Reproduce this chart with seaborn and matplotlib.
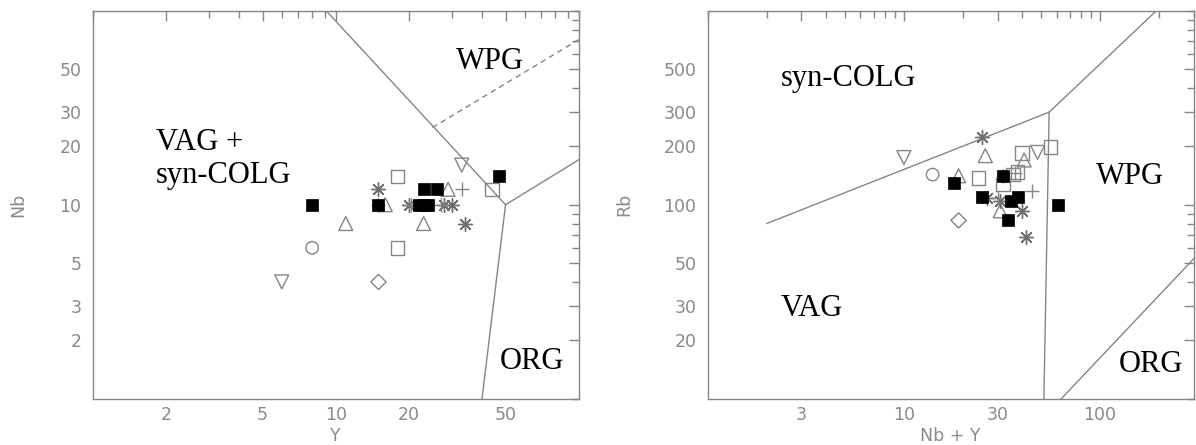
import matplotlib
matplotlib.use("Agg")
import matplotlib.pyplot as plt
import seaborn as sns
from matplotlib.ticker import FixedLocator, LogLocator, NullFormatter, FixedFormatter

sns.set_style("white")
plt.rcParams["font.family"] = ["DejaVu Sans"]

GRAY = "#858585"
TXT = "#8a8a8a"

# ---------------- Left panel: Nb vs Y ----------------
L_fsq_Y = [8, 15, 22, 23, 24, 23, 26, 47]
L_fsq_Nb = [10, 10, 10, 10, 10, 12, 12, 14]
L_osq_Y = [18, 18, 44]
L_osq_Nb = [14, 6, 12]
L_tri_Y = [11, 16, 23, 29]
L_tri_Nb = [8, 10, 8, 12]
L_itri_Y = [6, 33]
L_itri_Nb = [4, 16]
L_circ_Y = [8]
L_circ_Nb = [6]
L_diam_Y = [15]
L_diam_Nb = [4]
L_ast_Y = [15, 20, 28, 30, 34]
L_ast_Nb = [12, 10, 10, 10, 8]
L_plus_Y = [15, 20.5, 27, 33]
L_plus_Nb = [10, 10, 10, 12]

# boundaries (Y, Nb)
L_b1_Y, L_b1_Nb = [1, 50], [2000, 10]
L_b2_Y, L_b2_Nb = [50, 1000], [10, 100]
L_b3_Y, L_b3_Nb = [50, 40], [10, 1]
L_bd_Y, L_bd_Nb = [25, 1000], [25, 400]

# ---------------- Right panel: Rb vs Nb+Y ----------------
R_fsq_X = [18, 25, 32, 35, 38, 34, 61]
R_fsq_Rb = [129, 110, 140, 104, 109, 83, 100]
R_osq_X = [24, 32, 36, 38, 40, 56]
R_osq_Rb = [137, 127, 143, 147, 185, 198]
R_tri_X = [19, 26, 31, 41]
R_tri_Rb = [141, 179, 93, 170]
R_itri_X = [10, 48]
R_itri_Rb = [175, 186]
R_circ_X = [14]
R_circ_Rb = [143]
R_diam_X = [19]
R_diam_Rb = [83]
R_ast_X = [25, 26.5, 31, 40, 42]
R_ast_Rb = [224, 108, 105, 93, 68]
R_plus_X = [30, 32, 37, 45]
R_plus_Rb = [108, 140, 145, 117]

R_b1_X, R_b1_Rb = [2, 55], [80, 300]
R_b2_X, R_b2_Rb = [55, 400], [300, 2000]
R_b3_X, R_b3_Rb = [55, 51.5], [300, 8]
R_b4_X, R_b4_Rb = [51.5, 2000], [8, 400]

fig = plt.figure(figsize=(11.96, 4.45), dpi=100)
axL = fig.add_axes([92.7 / 1196, 46.3 / 445, 486 / 1196, 388 / 445])
axR = fig.add_axes([707.7 / 1196, 46.3 / 445, 486 / 1196, 388 / 445])


def setup(ax, xlim, ylim, xmaj, ymaj):
    ax.set_xscale("log")
    ax.set_yscale("log")
    ax.set_xlim(*xlim)
    ax.set_ylim(*ylim)
    ax.xaxis.set_major_locator(FixedLocator(xmaj))
    ax.xaxis.set_major_formatter(FixedFormatter([f"{v:g}" for v in xmaj]))
    ax.yaxis.set_major_locator(FixedLocator(ymaj))
    ax.yaxis.set_major_formatter(FixedFormatter([f"{v:g}" for v in ymaj]))
    for a in (ax.xaxis, ax.yaxis):
        a.set_minor_locator(LogLocator(base=10, subs=range(1, 10), numticks=50))
        a.set_minor_formatter(NullFormatter())
    ax.tick_params(which="both", direction="in", top=True, right=True,
                   color=GRAY, width=1, labelcolor=TXT, labelsize=12.5)
    ax.tick_params(which="major", length=7)
    ax.tick_params(which="minor", length=5)
    ax.tick_params(axis="x", pad=5)
    ax.tick_params(axis="y", pad=8)
    for sp in ax.spines.values():
        sp.set_color(GRAY)
        sp.set_linewidth(1)
    ax.grid(False)


setup(axL, (1, 100), (1, 100), [2, 5, 10, 20, 50], [2, 3, 5, 10, 20, 30, 50])
setup(axR, (1, 300), (10, 1000), [3, 10, 30, 100], [20, 30, 50, 100, 200, 300, 500])


def line(ax, x, y, ls="-"):
    sns.lineplot(x=x, y=y, ax=ax, color=GRAY, linewidth=1, linestyle=ls,
                 sort=False, estimator=None, zorder=1)


line(axL, L_b1_Y, L_b1_Nb)
line(axL, L_b2_Y, L_b2_Nb)
line(axL, L_b3_Y, L_b3_Nb)
line(axL, L_bd_Y, L_bd_Nb, ls=(0, (4, 3)))

line(axR, R_b1_X, R_b1_Rb)
line(axR, R_b2_X, R_b2_Rb)
line(axR, R_b3_X, R_b3_Rb)
line(axR, R_b4_X, R_b4_Rb)


def pts(ax, x, y, kind):
    if kind == "fsq":
        sns.scatterplot(x=x, y=y, ax=ax, marker="s", s=78, color="black",
                        edgecolor="black", linewidth=0.5, zorder=4)
    elif kind in ("osq", "tri", "itri", "circ", "diam"):
        m = {"osq": "s", "tri": "^", "itri": "v", "circ": "o", "diam": "D"}[kind]
        s = {"osq": 95, "tri": 100, "itri": 100, "circ": 80, "diam": 60}[kind]
        sns.scatterplot(x=x, y=y, ax=ax, marker=m, s=s, color="none",
                        edgecolor=GRAY, linewidth=1, zorder=3)
    elif kind == "ast":
        sns.scatterplot(x=x, y=y, ax=ax, marker=(8, 2, 0), s=100, color="#6e6e6e",
                        linewidth=1, zorder=3)
    elif kind == "plus":
        sns.scatterplot(x=x, y=y, ax=ax, marker="+", s=110, color=GRAY,
                        linewidth=1, zorder=3)


for ax, groups in (
    (axL, [(L_osq_Y, L_osq_Nb, "osq"), (L_tri_Y, L_tri_Nb, "tri"),
           (L_itri_Y, L_itri_Nb, "itri"), (L_circ_Y, L_circ_Nb, "circ"),
           (L_diam_Y, L_diam_Nb, "diam"), (L_ast_Y, L_ast_Nb, "ast"),
           (L_plus_Y, L_plus_Nb, "plus"), (L_fsq_Y, L_fsq_Nb, "fsq")]),
    (axR, [(R_osq_X, R_osq_Rb, "osq"), (R_tri_X, R_tri_Rb, "tri"),
           (R_itri_X, R_itri_Rb, "itri"), (R_circ_X, R_circ_Rb, "circ"),
           (R_diam_X, R_diam_Rb, "diam"), (R_ast_X, R_ast_Rb, "ast"),
           (R_plus_X, R_plus_Rb, "plus"), (R_fsq_X, R_fsq_Rb, "fsq")]),
):
    for x, y, k in groups:
        pts(ax, x, y, k)

serif = dict(family=["Liberation Serif", "DejaVu Serif"], fontsize=22, color="black",
             ha="left", va="center")
axL.text(1.82, 20.8, "VAG +", **serif)
axL.text(1.82, 14.2, "syn-COLG", **serif)
axL.text(31.3, 54.4, "WPG", **serif)
axL.text(47.5, 1.55, "ORG", **serif)

axR.text(2.35, 446, "syn-COLG", **serif)
axR.text(95.7, 140, "WPG", **serif)
axR.text(2.36, 29.3, "VAG", **serif)
axR.text(125, 15, "ORG", **serif)

axL.set_xlabel("Y", color=TXT, fontsize=12.5)
axL.set_ylabel("Nb", color=TXT, fontsize=12.5)
axR.set_xlabel("Nb + Y", color=TXT, fontsize=12.5)
axR.set_ylabel("Rb", color=TXT, fontsize=12.5)
axL.xaxis.set_label_coords(0.5, -0.073)
axR.xaxis.set_label_coords(0.5, -0.073)
axL.yaxis.set_label_coords(-0.135, 0.5)
axR.yaxis.set_label_coords(-0.154, 0.5)

fig.savefig("out.png", dpi=100, facecolor="white")
